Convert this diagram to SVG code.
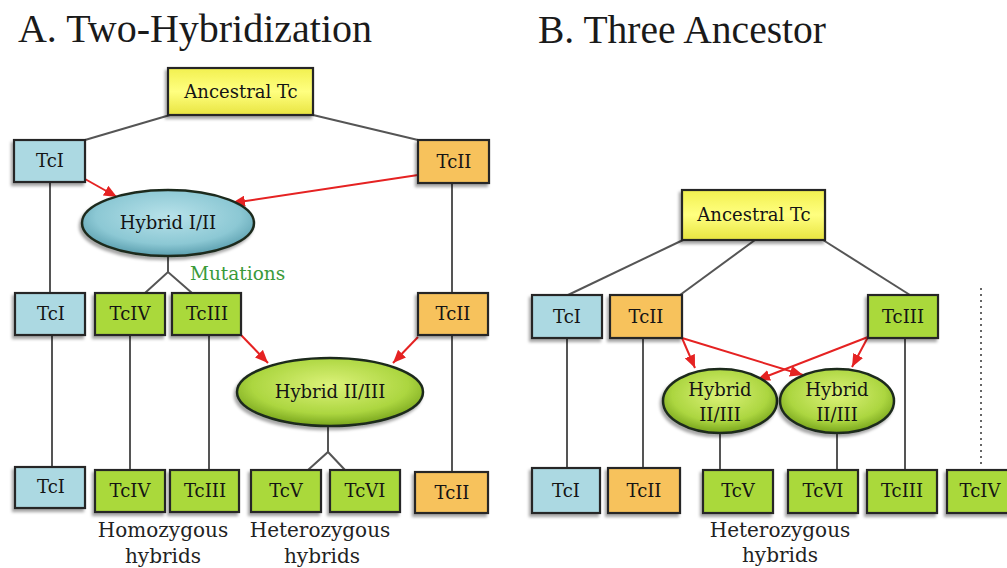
<svg xmlns="http://www.w3.org/2000/svg" width="1007" height="568" viewBox="0 0 1007 568">
<defs>
<style>
.title{font-family:"Liberation Serif","Times New Roman",serif;font-size:39px;fill:#1a1a1a}
.lbl{font-family:"DejaVu Serif",serif;font-size:18px;fill:#141414;text-anchor:middle}
.cap{font-family:"DejaVu Serif",serif;font-size:20px;fill:#222;text-anchor:middle}
.mut{font-family:"DejaVu Serif",serif;font-size:18.5px;fill:#3a9a3a}
.box{stroke:#262626;stroke-width:2.2;filter:url(#sh)}
.blue{fill:#acd9e2}
.orange{fill:#f7c25c}
.green{fill:#aad93a}
.yellow{fill:url(#gy)}
.ell{stroke:#1f2b1f;stroke-width:2.5;filter:url(#sh)}
.line{stroke:#555;stroke-width:2;fill:none}
.dot{stroke:#666;stroke-width:2;stroke-dasharray:2 4;fill:none}
.arr{stroke:#e52222;stroke-width:2;fill:none;marker-end:url(#ah)}
</style>
<linearGradient id="gy" x1="0" y1="0" x2="0" y2="1">
<stop offset="0" stop-color="#f2f050"/>
<stop offset="0.5" stop-color="#ffff80"/>
<stop offset="1" stop-color="#e8e440"/>
</linearGradient>
<radialGradient id="gb" cx="0.5" cy="0.4" r="0.6">
<stop offset="0" stop-color="#b8e2ea"/>
<stop offset="0.7" stop-color="#8cc8d4"/>
<stop offset="1" stop-color="#5a9eae"/>
</radialGradient>
<radialGradient id="gg" cx="0.5" cy="0.4" r="0.6">
<stop offset="0" stop-color="#dcf27a"/>
<stop offset="0.7" stop-color="#acd640"/>
<stop offset="1" stop-color="#77a41c"/>
</radialGradient>
<filter id="sh" x="-20%" y="-20%" width="140%" height="150%">
<feDropShadow dx="-2" dy="3" stdDeviation="1.5" flood-color="#000" flood-opacity="0.35"/>
</filter>
<marker id="ah" markerUnits="userSpaceOnUse" markerWidth="13" markerHeight="11" refX="13" refY="5.5" orient="auto">
<path d="M0,0 L13,5.5 L0,11 z" fill="#e52222"/>
</marker>
</defs>
<rect width="1007" height="568" fill="#fff"/>

<text class="title" x="18" y="42" textLength="354" lengthAdjust="spacingAndGlyphs">A. Two-Hybridization</text>
<text class="title" x="538" y="43" textLength="288" lengthAdjust="spacingAndGlyphs">B. Three Ancestor</text>

<g id="connectors">
<line class="line" x1="170" y1="115" x2="85" y2="140"/>
<line class="line" x1="313" y1="115" x2="418" y2="140"/>
<line class="line" x1="50" y1="182" x2="50" y2="293"/>
<line class="line" x1="452" y1="183" x2="452" y2="293"/>
<polyline class="line" points="168,257 168,272"/>
<polyline class="line" points="145,293 168,272 192,293"/>
<line class="line" x1="52" y1="335" x2="52" y2="467"/>
<line class="line" x1="130" y1="335" x2="130" y2="470"/>
<line class="line" x1="209" y1="335" x2="209" y2="470"/>
<line class="line" x1="452" y1="335" x2="452" y2="472"/>
<polyline class="line" points="328,427 328,452"/>
<polyline class="line" points="308,470 328,452 345,470"/>
<line class="line" x1="683" y1="240" x2="568" y2="295"/>
<line class="line" x1="755" y1="240" x2="680" y2="295"/>
<line class="line" x1="823" y1="240" x2="910" y2="295"/>
<line class="line" x1="567" y1="338" x2="567" y2="468"/>
<line class="line" x1="643" y1="338" x2="643" y2="468"/>
<line class="line" x1="720" y1="433" x2="720" y2="470"/>
<line class="line" x1="837" y1="433" x2="837" y2="470"/>
<line class="line" x1="905" y1="338" x2="905" y2="470"/>
<line class="dot" x1="981" y1="288" x2="981" y2="468"/>
<line class="arr" x1="85" y1="179" x2="117" y2="197"/>
<line class="arr" x1="418" y1="175" x2="232" y2="203"/>
<line class="arr" x1="241" y1="335" x2="268" y2="363"/>
<line class="arr" x1="418" y1="337" x2="393" y2="363"/>
<line class="arr" x1="682" y1="338" x2="695" y2="368"/>
<line class="arr" x1="682" y1="338" x2="803" y2="375"/>
<line class="arr" x1="868" y1="337" x2="757" y2="380"/>
<line class="arr" x1="868" y1="337" x2="852" y2="367"/>
</g>

<g id="a-ancestral"><rect class="box yellow" x="168" y="68" width="145" height="47"/><text class="lbl" x="241" y="98">Ancestral Tc</text></g>
<g id="a-tc1-top"><rect class="box blue" x="14" y="140" width="71" height="42"/><text class="lbl" x="50" y="167">TcI</text></g>
<g id="a-tc2-top"><rect class="box orange" x="418" y="140" width="71" height="43"/><text class="lbl" x="454" y="168">TcII</text></g>
<g id="a-hybrid12"><ellipse class="ell" fill="url(#gb)" cx="168" cy="223" rx="86" ry="33"/><text class="lbl" x="168" y="229">Hybrid I/II</text></g>
<text class="mut" x="190" y="280">Mutations</text>
<g id="a-tc1-mid"><rect class="box blue" x="15" y="293" width="70" height="42"/><text class="lbl" x="51" y="320">TcI</text></g>
<g id="a-tc4-mid"><rect class="box green" x="95" y="293" width="70" height="42"/><text class="lbl" x="130" y="320">TcIV</text></g>
<g id="a-tc3-mid"><rect class="box green" x="172" y="293" width="69" height="42"/><text class="lbl" x="207" y="320">TcIII</text></g>
<g id="a-tc2-mid"><rect class="box orange" x="418" y="293" width="70" height="42"/><text class="lbl" x="453" y="320">TcII</text></g>
<g id="a-hybrid23"><ellipse class="ell" fill="url(#gg)" cx="330" cy="392" rx="93" ry="34"/><text class="lbl" x="330" y="398">Hybrid II/III</text></g>
<g id="a-tc1-bot"><rect class="box blue" x="15" y="467" width="70" height="41"/><text class="lbl" x="51" y="493">TcI</text></g>
<g id="a-tc4-bot"><rect class="box green" x="95" y="470" width="70" height="42"/><text class="lbl" x="130" y="497">TcIV</text></g>
<g id="a-tc3-bot"><rect class="box green" x="170" y="470" width="69" height="42"/><text class="lbl" x="205" y="497">TcIII</text></g>
<g id="a-tc5-bot"><rect class="box green" x="251" y="470" width="70" height="42"/><text class="lbl" x="286" y="497">TcV</text></g>
<g id="a-tc6-bot"><rect class="box green" x="330" y="470" width="70" height="42"/><text class="lbl" x="365" y="497">TcVI</text></g>
<g id="a-tc2-bot"><rect class="box orange" x="415" y="472" width="73" height="41"/><text class="lbl" x="452" y="499">TcII</text></g>
<text class="cap" x="163" y="537">Homozygous</text>
<text class="cap" x="163" y="563">hybrids</text>
<text class="cap" x="320" y="537">Heterozygous</text>
<text class="cap" x="322" y="563">hybrids</text>

<g id="b-ancestral"><rect class="box yellow" x="682" y="190" width="143" height="50"/><text class="lbl" x="754" y="221">Ancestral Tc</text></g>
<g id="b-tc1-top"><rect class="box blue" x="532" y="295" width="70" height="43"/><text class="lbl" x="567" y="323">TcI</text></g>
<g id="b-tc2-top"><rect class="box orange" x="610" y="295" width="72" height="43"/><text class="lbl" x="646" y="323">TcII</text></g>
<g id="b-tc3-top"><rect class="box green" x="868" y="295" width="70" height="43"/><text class="lbl" x="903" y="323">TcIII</text></g>
<g id="b-hybrid-a"><ellipse class="ell" fill="url(#gg)" cx="720" cy="401" rx="57" ry="32"/><text class="lbl" x="720" y="396">Hybrid</text><text class="lbl" x="720" y="421">II/III</text></g>
<g id="b-hybrid-b"><ellipse class="ell" fill="url(#gg)" cx="837" cy="401" rx="57" ry="32"/><text class="lbl" x="837" y="396">Hybrid</text><text class="lbl" x="837" y="421">II/III</text></g>
<g id="b-tc1-bot"><rect class="box blue" x="532" y="468" width="68" height="45"/><text class="lbl" x="566" y="497">TcI</text></g>
<g id="b-tc2-bot"><rect class="box orange" x="608" y="468" width="72" height="45"/><text class="lbl" x="644" y="497">TcII</text></g>
<g id="b-tc5-bot"><rect class="box green" x="703" y="470" width="70" height="43"/><text class="lbl" x="738" y="497">TcV</text></g>
<g id="b-tc6-bot"><rect class="box green" x="788" y="470" width="70" height="43"/><text class="lbl" x="823" y="497">TcVI</text></g>
<g id="b-tc3-bot"><rect class="box green" x="867" y="470" width="70" height="43"/><text class="lbl" x="902" y="497">TcIII</text></g>
<g id="b-tc4-bot"><rect class="box green" x="947" y="470" width="70" height="43"/><text class="lbl" x="980" y="497">TcIV</text></g>
<text class="cap" x="780" y="537">Heterozygous</text>
<text class="cap" x="780" y="562">hybrids</text>
</svg>
